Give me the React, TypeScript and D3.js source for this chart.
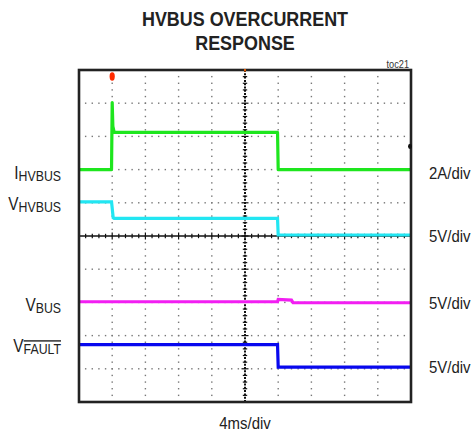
import React from 'react';
import * as d3 from 'd3';

// ---- data (divisions on a 10 x 10 scope screen; x: time div, y: div from center) ----
const TITLE = ['HVBUS OVERCURRENT', 'RESPONSE'];
const TOC = 'toc21';
const TIME_LABEL = '4ms/div';
const X_DIVS = [0, 1, 2, 3, 4, 5, 6, 7, 8, 9, 10];
const Y_DIVS = [-5, -4, -3, -2, -1, 0, 1, 2, 3, 4, 5];
const CHANNEL_NAMES = [
  { main: 'I', sub: 'HVBUS', over: false },
  { main: 'V', sub: 'HVBUS', over: false },
  { main: 'V', sub: 'BUS', over: false },
  { main: 'V', sub: 'FAULT', over: true },
];
const CHANNEL_SCALES = ['2A/div', '5V/div', '5V/div', '5V/div'];

const I_HVBUS: [number, number][] = [
  [0, 2.0], [0.98, 2.0], [1.0, 4.02], [1.02, 3.3], [1.06, 3.12], [5.98, 3.12], [6.0, 2.0], [10, 2.0],
];
const V_HVBUS: [number, number][] = [
  [0, 1.03], [0.98, 1.03], [1.03, 0.55], [1.06, 0.53], [5.98, 0.53], [6.0, 0.03], [10, 0.03],
];
const V_BUS: [number, number][] = [
  [0, -1.98], [5.98, -1.98], [6.0, -1.91], [6.4, -1.93], [6.45, -2.01], [10, -2.01],
];
const V_FAULT: [number, number][] = [
  [0, -3.27], [5.98, -3.27], [6.0, -3.95], [10, -3.95],
];

const FONT = '"Liberation Sans", Arial, Helvetica, sans-serif';

export default function App() {
  const x = d3.scaleLinear().domain([0, 10]).range([79, 411]);
  const y = d3.scaleLinear().domain([-5, 5]).range([402, 70]);
  const line = d3.line<[number, number]>().x(d => x(d[0])).y(d => y(d[1]));

  const minor = d3.range(0, 10.001, 0.2);
  const dots: JSX.Element[] = [];
  X_DIVS.filter(v => v > 0 && v < 10 && v !== 5).forEach(v => {
    minor.forEach((m, j) => {
      dots.push(<rect key={`v${v}-${j}`} x={x(v) - 0.7} y={y(m - 5) - 0.7} width={1.4} height={1.4} fill="#777" />);
    });
  });
  Y_DIVS.filter(v => v > -5 && v < 5 && v !== 0).forEach(v => {
    minor.forEach((m, j) => {
      dots.push(<rect key={`h${v}-${j}`} x={x(m) - 0.7} y={y(v) - 0.7} width={1.4} height={1.4} fill="#777" />);
    });
  });

  const cx = x(5);
  const cy = y(0);
  const ticks: JSX.Element[] = [];
  minor.forEach((m, j) => {
    const big = Math.abs(m - Math.round(m)) < 1e-6;
    const len = big ? 3.5 : 2.2;
    ticks.push(<line key={`tx${j}`} x1={x(m)} x2={x(m)} y1={cy - len} y2={cy + len} stroke="#111" strokeWidth={1.2} />);
    ticks.push(<line key={`ty${j}`} x1={cx - len} x2={cx + len} y1={y(m - 5)} y2={y(m - 5)} stroke="#111" strokeWidth={1.2} />);
  });

  const sx = 0.88;
  const labelYs = [178.5, 210, 310.5, 352];
  const scaleYs = [179, 242, 308.5, 372.5];

  return (
    <div style={{ position: 'absolute', left: 0, top: 0 }}>
      <svg width={472} height={434} viewBox="0 0 472 434" style={{ display: 'block', background: '#fff' }}>
        {TITLE.map((t, i) => (
          <text key={t} transform={`translate(245,${26 + i * 24}) scale(0.92,1)`} textAnchor="middle"
            fontFamily={FONT} fontWeight="bold" fontSize={19.5} fill="#222">{t}</text>
        ))}
        <text transform={`translate(409,67.5) scale(0.92,1)`} textAnchor="end" fontFamily={FONT} fontSize={10} fill="#333">{TOC}</text>

        <g>{dots}</g>
        <line x1={x(0)} x2={x(10)} y1={cy} y2={cy} stroke="#111" strokeWidth={1.6} />
        <line x1={cx} x2={cx} y1={y(-5)} y2={y(5)} stroke="#111" strokeWidth={2} strokeDasharray="2 1.3" />
        <g>{ticks}</g>

        <path d={line(V_FAULT) || ''} fill="none" stroke="#0808ee" strokeWidth={3.2} />
        <path d={line(V_BUS) || ''} fill="none" stroke="#f21ef2" strokeWidth={3.2} />
        <path d={line(V_HVBUS) || ''} fill="none" stroke="#22e6f2" strokeWidth={3.2} />
        <path d={line(I_HVBUS) || ''} fill="none" stroke="#1ee61e" strokeWidth={3.2} strokeLinejoin="round" />

        <rect x={x(0)} y={y(5)} width={x(10) - x(0)} height={y(-5) - y(5)} fill="none" stroke="#222" strokeWidth={2.6} />

        <ellipse cx={x(1)} cy={76.5} rx={2.6} ry={4.2} fill="#ff2a00" />
        <rect x={cx - 1} y={69} width={2} height={2.5} fill="#e05a00" />
        <ellipse cx={x(10) - 1} cy={y(2.7)} rx={2} ry={2.6} fill="#111" />

        {CHANNEL_NAMES.map((c, i) => (
          <text key={i} transform={`translate(61,${labelYs[i]}) scale(${sx},1)`} textAnchor="end" fontFamily={FONT} fill="#222">
            <tspan fontSize={17.5}>{c.main}</tspan>
            <tspan fontSize={14} dy={2} style={c.over ? { textDecoration: 'overline' } : undefined}>{c.sub}</tspan>
          </text>
        ))}
        {CHANNEL_SCALES.map((s, i) => (
          <text key={i} transform={`translate(429,${scaleYs[i]}) scale(${sx},1)`} fontFamily={FONT} fontSize={17} fill="#222">{s}</text>
        ))}
        <text transform={`translate(245,429) scale(${sx},1)`} textAnchor="middle" fontFamily={FONT} fontSize={17} fill="#222">{TIME_LABEL}</text>
      </svg>
    </div>
  );
}
